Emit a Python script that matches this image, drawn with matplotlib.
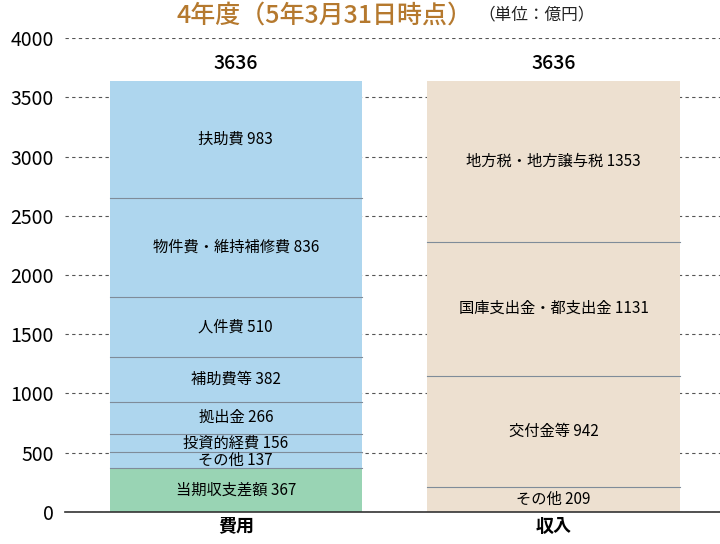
import matplotlib
matplotlib.use("Agg")
import matplotlib.pyplot as plt

plt.rcParams["font.family"] = "Noto Sans CJK JP"

categories = ["費用", "収入"]
totals = [3636, 3636]
exp_labels = ["当期収支差額", "その他", "投資的経費", "拠出金", "補助費等", "人件費", "物件費・維持補修費", "扶助費"]
exp_values = [367, 137, 156, 266, 382, 510, 836, 983]
rev_labels = ["その他", "交付金等", "国庫支出金・都支出金", "地方税・地方譲与税"]
rev_values = [209, 942, 1131, 1353]
yticks = [0, 500, 1000, 1500, 2000, 2500, 3000, 3500, 4000]

fig = plt.figure(figsize=(7.2, 5.44), dpi=100)
ax = fig.add_axes([0.09, 0.059, 0.91, 0.871])
ax.set_xlim(0, 1)
ax.set_ylim(0, 4000)
ax.set_yticks(yticks)
ax.tick_params(axis="y", length=0, labelsize=14, pad=8)
ax.set_xticks([])
for s in ["top", "right", "left"]:
    ax.spines[s].set_visible(False)
ax.spines["bottom"].set_color("#333333")
ax.spines["bottom"].set_linewidth(1.2)
ax.yaxis.grid(True, linestyle=(0, (3, 3)), color="#555555", linewidth=0.8)
ax.set_axisbelow(True)

centers = [0.261, 0.746]
w = 0.385
edge = "#7f8c99"

bottom = 0
for i, (lab, v) in enumerate(zip(exp_labels, exp_values)):
    col = "#99d4b4" if i == 0 else "#aed6ee"
    ax.bar(centers[0], v, w, bottom=bottom, color=col, edgecolor="none", zorder=2)
    if bottom > 0:
        ax.plot([centers[0]-w/2, centers[0]+w/2], [bottom, bottom], color=edge, lw=0.8, zorder=3)
    ax.text(centers[0], bottom + v/2, f"{lab} {v}", ha="center", va="center", fontsize=11, zorder=4)
    bottom += v

bottom = 0
for lab, v in zip(rev_labels, rev_values):
    ax.bar(centers[1], v, w, bottom=bottom, color="#ede0d0", edgecolor="none", zorder=2)
    if bottom > 0:
        ax.plot([centers[1]-w/2, centers[1]+w/2], [bottom, bottom], color=edge, lw=0.8, zorder=3)
    ax.text(centers[1], bottom + v/2, f"{lab} {v}", ha="center", va="center", fontsize=11, zorder=4)
    bottom += v

for c, t in zip(centers, totals):
    ax.text(c, t + 70, str(t), ha="center", va="bottom", fontsize=14, fontweight="medium")
for c, cat in zip(centers, categories):
    ax.text(c, -40, cat, ha="center", va="top", fontsize=13, fontweight="bold")

fig.text(0.245, 0.972, "4年度（5年3月31日時点）", ha="left", va="center", fontsize=18, color="#b5792e", fontweight="medium")
fig.text(0.665, 0.972, "（単位：億円）", ha="left", va="center", fontsize=12, color="#222222")

fig.savefig("out.png", dpi=100)
